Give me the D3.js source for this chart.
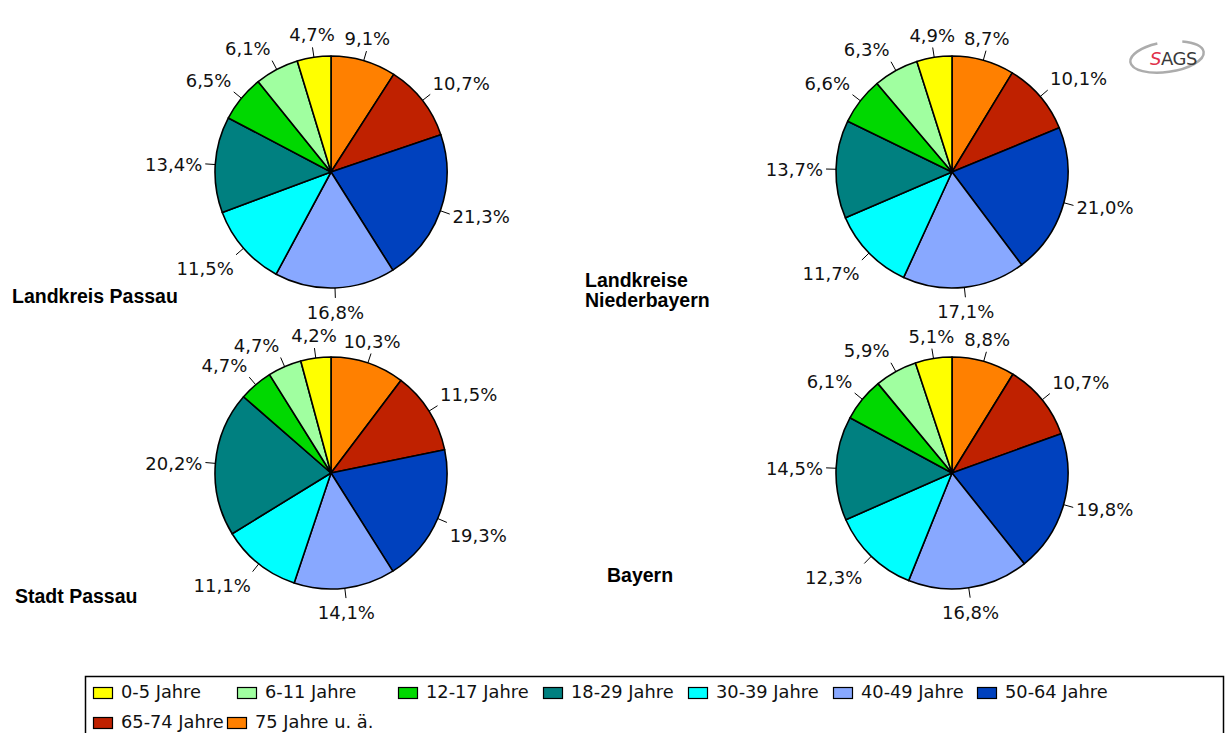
<!DOCTYPE html>
<html>
<head>
<meta charset="utf-8">
<script src="https://cdn.jsdelivr.net/npm/d3@7"></script>
<style>
  body { margin: 0; background: #fff; }
  svg { display: block; }
</style>
</head>
<body>
<svg></svg>
<script>
// age groups in legend order
var ageGroups = ["0-5 Jahre", "6-11 Jahre", "12-17 Jahre", "18-29 Jahre", "30-39 Jahre",
                 "40-49 Jahre", "50-64 Jahre", "65-74 Jahre", "75 Jahre u. ä."];
var regions = ["Landkreis Passau", "Landkreise Niederbayern", "Stadt Passau", "Bayern"];

// shares in %, same order as ageGroups
var lkPassau       = [4.7, 6.1, 6.5, 13.4, 11.5, 16.8, 21.3, 10.7, 9.1];
var lkNiederbayern = [4.9, 6.3, 6.6, 13.7, 11.7, 17.1, 21.0, 10.1, 8.7];
var stadtPassau    = [4.2, 4.7, 4.7, 20.2, 11.1, 14.1, 19.3, 11.5, 10.3];
var bayern         = [5.1, 5.9, 6.1, 14.5, 12.3, 16.8, 19.8, 10.7, 8.8];

var colors = ["#ffff00", "#a0ffa0", "#00d800", "#008080", "#00ffff",
              "#88a8ff", "#0041be", "#bf2100", "#ff8000"];

var width = 1229, height = 733;
var radius = 116;

var svg = d3.select("svg")
    .attr("width", width)
    .attr("height", height);

var color = d3.scaleOrdinal().domain(ageGroups).range(colors);

// pie positions and title placement
var panels = [
  {values: lkPassau,       cx: 331, cy: 172, title: ["Landkreis Passau"],           tx: 12,  ty: 303},
  {values: lkNiederbayern, cx: 952, cy: 172, title: ["Landkreise", "Niederbayern"], tx: 585, ty: 287},
  {values: stadtPassau,    cx: 331, cy: 473, title: ["Stadt Passau"],               tx: 15,  ty: 603},
  {values: bayern,         cx: 952, cy: 473, title: ["Bayern"],                     tx: 607, ty: 582}
];

var fmt = function(v) { return v.toFixed(1).replace(".", ",") + "%"; };

// slices run clockwise from 12 o'clock, oldest group first
var pie = d3.pie().sort(null).value(function(d) { return d.value; });
var arc = d3.arc().innerRadius(0).outerRadius(radius);

function mid(d) { return (d.startAngle + d.endAngle) / 2; }

panels.forEach(function(p, i) {
  var rows = ageGroups.map(function(g, j) { return {group: g, value: p.values[j]}; }).reverse();
  var g = svg.append("g").attr("transform", "translate(" + p.cx + "," + p.cy + ")");

  var arcs = pie(rows);

  g.selectAll("path")
    .data(arcs)
    .enter().append("path")
    .attr("d", arc)
    .attr("fill", function(d) { return color(d.data.group); })
    .attr("stroke", "#000")
    .attr("stroke-width", 1.6)
    .attr("stroke-linejoin", "round");

  // leader ticks
  g.selectAll("line.tick")
    .data(arcs)
    .enter().append("line")
    .attr("class", "tick")
    .attr("x1", function(d) { return Math.sin(mid(d)) * radius; })
    .attr("y1", function(d) { return -Math.cos(mid(d)) * radius; })
    .attr("x2", function(d) { return Math.sin(mid(d)) * (radius + 10); })
    .attr("y2", function(d) { return -Math.cos(mid(d)) * (radius + 10); })
    .attr("stroke", "#000")
    .attr("stroke-width", 1);

  // value labels
  g.selectAll("text.val")
    .data(arcs)
    .enter().append("text")
    .attr("class", "val")
    .attr("font-family", "DejaVu Sans, Verdana, sans-serif")
    .attr("font-size", 18)
    .attr("fill", "#111")
    .attr("text-anchor", function(d) {
      var s = Math.sin(mid(d));
      return s > 0.35 ? "start" : (s < -0.35 ? "end" : "middle");
    })
    .attr("x", function(d) { return Math.sin(mid(d)) * (radius + 13); })
    .attr("y", function(d) {
      var c = Math.cos(mid(d));
      var py = -c * (radius + 13);
      if (c > 0.35) return py - 3;      // label above the tick
      if (c < -0.35) return py + 18;    // label below the tick
      return py + 7.5;                  // vertically centred
    })
    .text(function(d) { return fmt(d.data.value); });

  // region title, one text per line
  p.title.forEach(function(line, k) {
    svg.append("text")
      .attr("x", p.tx)
      .attr("y", p.ty + k * 20)
      .attr("font-family", "Liberation Sans, Arial, sans-serif")
      .attr("font-weight", "bold")
      .attr("font-size", 19.5)
      .attr("fill", "#000")
      .text(line);
  });
});

// legend
var legendX = [93, 237, 398, 543, 688, 833, 977, 93, 227];
var legendRow = [0, 0, 0, 0, 0, 0, 0, 1, 1];

svg.append("rect")
  .attr("x", 85.5).attr("y", 676.5)
  .attr("width", 1138).attr("height", 70)
  .attr("fill", "#fff")
  .attr("stroke", "#000")
  .attr("stroke-width", 1.5);

var leg = svg.selectAll("g.leg")
  .data(ageGroups)
  .enter().append("g")
  .attr("class", "leg")
  .attr("transform", function(d, i) { return "translate(" + legendX[i] + "," + (687 + legendRow[i] * 30) + ")"; });

leg.append("rect")
  .attr("x", 0.5).attr("y", 0.5)
  .attr("width", 19).attr("height", 11)
  .attr("fill", function(d) { return color(d); })
  .attr("stroke", "#000")
  .attr("stroke-width", 1.2);

leg.append("text")
  .attr("x", 28)
  .attr("y", 11)
  .attr("font-family", "DejaVu Sans, Verdana, sans-serif")
  .attr("font-size", 17.8)
  .attr("fill", "#111")
  .text(function(d) { return d; });

// SAGS logo
var logo = svg.append("g").attr("transform", "translate(1167,57)");
logo.append("ellipse")
  .attr("rx", 37).attr("ry", 15)
  .attr("transform", "rotate(-8)")
  .attr("fill", "none")
  .attr("stroke", "#909090")
  .attr("stroke-width", 2.5)
  .attr("stroke-dasharray", "120 25 40 60")
  .attr("opacity", 0.75);
var logoText = logo.append("text")
  .attr("x", -17).attr("y", 8)
  .attr("font-family", "DejaVu Sans, Verdana, sans-serif")
  .attr("font-size", 18)
  .attr("letter-spacing", -0.5);
logoText.append("tspan").attr("fill", "#e0304a").attr("font-style", "italic").text("S");
logoText.append("tspan").attr("fill", "#3a3a3a").text("AGS");
</script>
</body>
</html>
